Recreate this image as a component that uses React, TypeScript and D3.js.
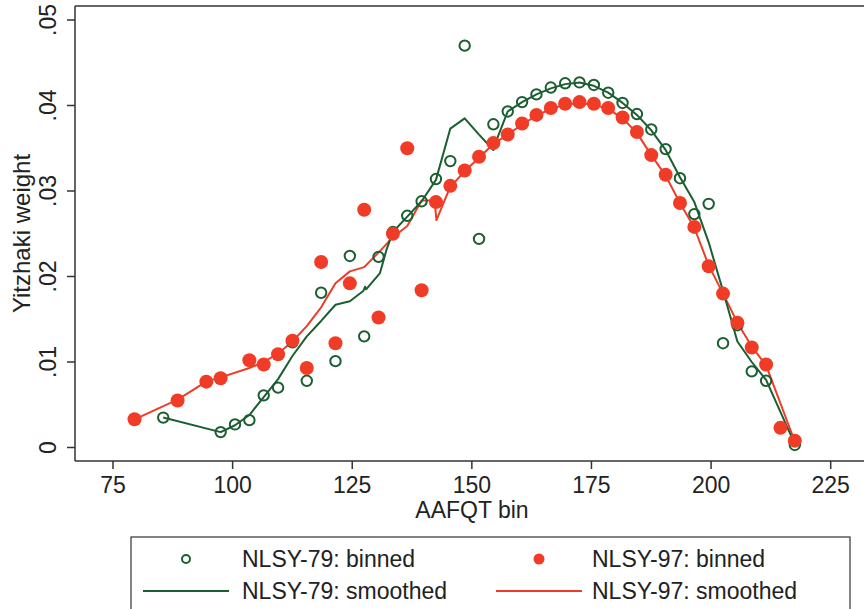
import React from "react";
import * as d3 from "d3";

// ---- data ----
const xTicks = [75, 100, 125, 150, 175, 200, 225];
const yTicks = [0, 0.01, 0.02, 0.03, 0.04, 0.05];
const yTickLabels = ["0", ".01", ".02", ".03", ".04", ".05"];

const g79BinX = [85.5, 97.5, 100.5, 103.5, 106.5, 109.5, 112.5, 115.5, 118.5, 121.5, 124.5, 127.5, 130.5, 133.5, 136.5, 139.5, 142.5, 145.5, 148.5, 151.5, 154.5, 157.5, 160.5, 163.5, 166.5, 169.5, 172.5, 175.5, 178.5, 181.5, 184.5, 187.5, 190.5, 193.5, 196.5, 199.5, 202.5, 205.5, 208.5, 211.5, 217.5];
const g79BinY = [0.0035, 0.0018, 0.0027, 0.0032, 0.0061, 0.0070, 0.0123, 0.0078, 0.0181, 0.0101, 0.0224, 0.0130, 0.0223, 0.0252, 0.0271, 0.0288, 0.0314, 0.0335, 0.0470, 0.0244, 0.0378, 0.0393, 0.0404, 0.0413, 0.0421, 0.0426, 0.0427, 0.0424, 0.0415, 0.0403, 0.0390, 0.0372, 0.0349, 0.0315, 0.0273, 0.0285, 0.0122, 0.0143, 0.0089, 0.0078, 0.0003];

const r97BinX = [79.5, 88.5, 94.5, 97.5, 103.5, 106.5, 109.5, 112.5, 115.5, 118.5, 121.5, 124.5, 127.5, 130.5, 133.5, 136.5, 139.5, 142.5, 145.5, 148.5, 151.5, 154.5, 157.5, 160.5, 163.5, 166.5, 169.5, 172.5, 175.5, 178.5, 181.5, 184.5, 187.5, 190.5, 193.5, 196.5, 199.5, 202.5, 205.5, 208.5, 211.5, 214.5, 217.5];
const r97BinY = [0.0033, 0.0055, 0.0077, 0.0081, 0.0102, 0.0097, 0.0109, 0.0125, 0.0093, 0.0217, 0.0122, 0.0192, 0.0278, 0.0152, 0.0250, 0.0350, 0.0184, 0.0287, 0.0306, 0.0324, 0.0340, 0.0356, 0.0366, 0.0379, 0.0389, 0.0397, 0.0402, 0.0404, 0.0402, 0.0397, 0.0386, 0.0369, 0.0342, 0.0319, 0.0286, 0.0258, 0.0212, 0.0180, 0.0146, 0.0117, 0.0097, 0.0023, 0.0008];

const g79SmoothX = [85.5, 97.5, 100.5, 103.5, 106.5, 109.5, 112.5, 115.5, 118.5, 121.5, 124.5, 127.3, 127.7, 127.9, 130.8, 132.2, 133.5, 136.5, 139.5, 142.5, 145.5, 148.5, 151.5, 154.5, 155.2, 157.5, 160.5, 163.5, 166.5, 169.5, 172.5, 175.5, 178.5, 181.5, 184.5, 187.5, 190.5, 193.5, 196.5, 199.5, 202.5, 205.5, 208.5, 211.5, 217.5];
const g79SmoothY = [0.0035, 0.0018, 0.0026, 0.0038, 0.0059, 0.0080, 0.0107, 0.0130, 0.0148, 0.0167, 0.0171, 0.0183, 0.0188, 0.0185, 0.0204, 0.0232, 0.0252, 0.0270, 0.0288, 0.0313, 0.0373, 0.0385, 0.0366, 0.0348, 0.0360, 0.0393, 0.0404, 0.0413, 0.0420, 0.0425, 0.0427, 0.0423, 0.0415, 0.0403, 0.0389, 0.0371, 0.0348, 0.0316, 0.0287, 0.0240, 0.0183, 0.0124, 0.0100, 0.0079, 0.0004];

const r97SmoothX = [79.5, 88.5, 94.5, 97.5, 103.5, 106.5, 109.5, 112.5, 115.5, 118.5, 121.5, 124.5, 127.5, 130.5, 133.5, 136.5, 139.5, 142.2, 142.6, 145.5, 148.5, 151.5, 154.5, 157.5, 160.5, 163.5, 166.5, 169.5, 172.5, 175.5, 178.5, 181.5, 184.5, 187.5, 190.5, 193.5, 196.5, 199.5, 202.5, 205.5, 208.5, 211.5, 217.5];
const r97SmoothY = [0.0033, 0.0056, 0.0077, 0.0082, 0.0093, 0.0100, 0.0110, 0.0124, 0.0142, 0.0164, 0.0192, 0.0206, 0.0211, 0.0228, 0.0246, 0.0259, 0.0289, 0.0289, 0.0266, 0.0305, 0.0323, 0.0339, 0.0355, 0.0366, 0.0378, 0.0388, 0.0396, 0.0401, 0.0403, 0.0401, 0.0396, 0.0385, 0.0368, 0.0342, 0.0318, 0.0286, 0.0257, 0.0213, 0.0180, 0.0146, 0.0118, 0.0096, 0.0007];

const legendLabels = ["NLSY-79: binned", "NLSY-97: binned", "NLSY-79: smoothed", "NLSY-97: smoothed"];

const GREEN = "#1b5e31";
const RED = "#f03c26";
const AXIS = "#333333";
const FONT = "'Liberation Sans', Arial, Helvetica, sans-serif";

export default function App() {
  const W = 864, H = 609;
  const plotL = 75, plotT = 6, plotB = 461, plotR = 870;
  const x = d3.scaleLinear().domain([75, 225]).range([113, 830.7]);
  const y = d3.scaleLinear().domain([0, 0.05]).range([447.5, 20]);

  const line = d3.line<[number, number]>().x((d) => x(d[0])).y((d) => y(d[1]));
  const gSmooth = line(g79SmoothX.map((v, i) => [v, g79SmoothY[i]]) as [number, number][]) || "";
  const rSmooth = line(r97SmoothX.map((v, i) => [v, r97SmoothY[i]]) as [number, number][]) || "";

  const fs = 23;

  return (
    <div style={{ position: "absolute", left: 0, top: 0 }}>
      <svg width={W} height={H} viewBox={`0 0 ${W} ${H}`} style={{ display: "block", background: "#fff" }}>
        <rect x={0} y={0} width={W} height={H} fill="#fff" />
        {/* frame */}
        <line x1={plotL} y1={plotT} x2={plotR} y2={plotT} stroke={AXIS} strokeWidth={1.5} />
        <line x1={plotL} y1={plotT} x2={plotL} y2={plotB} stroke={AXIS} strokeWidth={1.5} />
        <line x1={plotL} y1={plotB} x2={plotR} y2={plotB} stroke={AXIS} strokeWidth={1.5} />

        {/* y ticks */}
        {yTicks.map((t, i) => (
          <g key={"y" + i}>
            <line x1={plotL - 8} x2={plotL} y1={y(t)} y2={y(t)} stroke={AXIS} strokeWidth={1.5} />
            <text
              x={56}
              y={y(t)}
              transform={`rotate(-90, 56, ${y(t)})`}
              textAnchor="middle"
              fontFamily={FONT}
              fontSize={fs}
              fill="#222"
            >
              {yTickLabels[i]}
            </text>
          </g>
        ))}
        {/* x ticks */}
        {xTicks.map((t, i) => (
          <g key={"x" + i}>
            <line x1={x(t)} x2={x(t)} y1={plotB} y2={plotB + 8} stroke={AXIS} strokeWidth={1.5} />
            <text x={x(t)} y={493} textAnchor="middle" fontFamily={FONT} fontSize={fs} fill="#222">
              {t}
            </text>
          </g>
        ))}

        {/* axis titles */}
        <text x={472} y={518} textAnchor="middle" fontFamily={FONT} fontSize={fs} fill="#222">
          AAFQT bin
        </text>
        <text
          x={30}
          y={233.5}
          transform="rotate(-90, 30, 233.5)"
          textAnchor="middle"
          fontFamily={FONT}
          fontSize={24}
          fill="#222"
        >
          Yitzhaki weight
        </text>

        {/* smoothed lines */}
        <path d={rSmooth} fill="none" stroke={RED} strokeWidth={2} strokeLinejoin="round" />
        <path d={gSmooth} fill="none" stroke={GREEN} strokeWidth={2} strokeLinejoin="round" />

        {/* binned points */}
        {g79BinX.map((v, i) => (
          <circle key={"g" + i} cx={x(v)} cy={y(g79BinY[i])} r={5.2} fill="none" stroke={GREEN} strokeWidth={2} />
        ))}
        {r97BinX.map((v, i) => (
          <circle key={"r" + i} cx={x(v)} cy={y(r97BinY[i])} r={7} fill={RED} />
        ))}

        {/* legend */}
        <rect x={131} y={537} width={719} height={100} fill="#fff" stroke={AXIS} strokeWidth={1.2} />
        <circle cx={186} cy={559} r={4} fill="none" stroke={GREEN} strokeWidth={2} />
        <text x={242} y={567} fontFamily={FONT} fontSize={fs} fill="#222">{legendLabels[0]}</text>
        <circle cx={539} cy={559} r={5.5} fill={RED} />
        <text x={592} y={567} fontFamily={FONT} fontSize={fs} fill="#222">{legendLabels[1]}</text>
        <line x1={143} x2={229} y1={591} y2={591} stroke={GREEN} strokeWidth={2} />
        <text x={242} y={599} fontFamily={FONT} fontSize={fs} fill="#222">{legendLabels[2]}</text>
        <line x1={496} x2={582} y1={591} y2={591} stroke={RED} strokeWidth={2} />
        <text x={592} y={599} fontFamily={FONT} fontSize={fs} fill="#222">{legendLabels[3]}</text>
      </svg>
    </div>
  );
}
